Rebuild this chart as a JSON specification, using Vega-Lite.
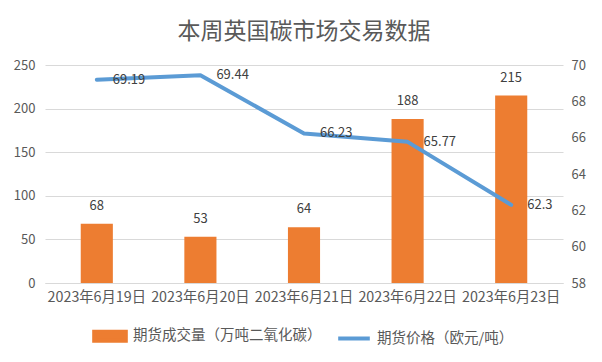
{
  "$schema": "https://vega.github.io/schema/vega-lite/v6.json",
  "autosize": "none",
  "width": 518,
  "height": 218,
  "padding": {"left": 45, "top": 65, "right": 39, "bottom": 79},
  "background": "white",
  "title": {
    "text": "本周英国碳市场交易数据",
    "font": "Noto Sans CJK SC",
    "fontSize": 23,
    "fontWeight": "normal",
    "color": "#595959",
    "anchor": "middle",
    "offset": 15
  },
  "config": {
    "view": {"stroke": null},
    "font": "Noto Sans CJK SC",
    "axis": {
      "labelFont": "Noto Sans CJK SC",
      "labelFontSize": 13,
      "labelColor": "#595959",
      "ticks": false,
      "domain": false,
      "gridColor": "#D9D9D9",
      "gridWidth": 1,
      "title": null,
      "labelOverlap": false
    }
  },
  "data": {
    "values": [
      {"date": "2023年6月19日", "volume": 68, "price": 69.19},
      {"date": "2023年6月20日", "volume": 53, "price": 69.44},
      {"date": "2023年6月21日", "volume": 64, "price": 66.23},
      {"date": "2023年6月22日", "volume": 188, "price": 65.77},
      {"date": "2023年6月23日", "volume": 215, "price": 62.3}
    ]
  },
  "encoding": {
    "x": {
      "field": "date",
      "type": "nominal",
      "sort": null,
      "scale": {"paddingInner": 0.69, "paddingOuter": 0.345},
      "axis": {"labelAngle": 0, "labelPadding": 7, "domain": true, "domainColor": "#D9D9D9", "labelFontSize": 14.3, "labelOverlap": false, "labelLimit": 0}
    }
  },
  "layer": [
    {
      "layer": [
        {
          "mark": {"type": "bar"},
          "encoding": {
            "y": {
              "field": "volume",
              "type": "quantitative",
              "scale": {"domain": [0, 250]},
              "axis": {"values": [0, 50, 100, 150, 200, 250], "labelPadding": 10, "grid": true, "labelOverlap": false}
            },
            "color": {
              "datum": "期货成交量（万吨二氧化碳）",
              "type": "nominal",
              "scale": {
                "domain": ["期货成交量（万吨二氧化碳）", "期货价格（欧元/吨）"],
                "range": ["#ED7D31", "#5B9BD5"]
              },
              "legend": {
                "orient": "none",
                "legendX": 47,
                "legendY": 253,
                "direction": "horizontal",
                "title": null,
                "labelFont": "Noto Sans CJK SC",
                "labelFontSize": 14.5,
                "labelColor": "#595959",
                "labelLimit": 0,
                "symbolType": "M-1,-0.28H1V0.28H-1Z",
                "symbolSize": 1000,
                "columnPadding": 8,
                "labelOffset": 5,
                "encode": {
                  "symbols": {
                    "update": {
                      "shape": {"signal": "datum.value === '期货价格（欧元/吨）' ? 'stroke' : 'M-1,-0.28H1V0.28H-1Z'"},
                      "fill": {"signal": "datum.value === '期货价格（欧元/吨）' ? 'transparent' : '#ED7D31'"},
                      "stroke": {"signal": "datum.value === '期货价格（欧元/吨）' ? '#5B9BD5' : 'transparent'"},
                      "strokeWidth": {"value": 4},
                      "opacity": {"value": 1}
                    }
                  }
                }
              }
            }
          }
        },
        {
          "mark": {"type": "text", "baseline": "middle", "dy": -18, "fontSize": 13, "color": "#404040", "font": "Noto Sans CJK SC"},
          "encoding": {
            "y": {
              "field": "volume",
              "type": "quantitative",
              "scale": {"domain": [0, 250]},
              "axis": {"values": [0, 50, 100, 150, 200, 250], "labelPadding": 10, "grid": true, "labelOverlap": false}
            },
            "text": {"field": "volume", "type": "quantitative"}
          }
        }
      ]
    },
    {
      "layer": [
        {
          "mark": {"type": "line", "strokeWidth": 4, "strokeCap": "round", "strokeJoin": "round"},
          "encoding": {
            "y": {
              "field": "price",
              "type": "quantitative",
              "scale": {"domain": [58, 70], "zero": false},
              "axis": {"orient": "right", "values": [58, 60, 62, 64, 66, 68, 70], "grid": false, "labelPadding": 8, "labelOverlap": false}
            },
            "color": {"datum": "期货价格（欧元/吨）", "type": "nominal"}
          }
        },
        {
          "mark": {"type": "text", "align": "left", "baseline": "middle", "dx": 16, "fontSize": 13, "color": "#404040", "font": "Noto Sans CJK SC"},
          "encoding": {
            "y": {
              "field": "price",
              "type": "quantitative",
              "scale": {"domain": [58, 70], "zero": false},
              "axis": {"orient": "right", "values": [58, 60, 62, 64, 66, 68, 70], "grid": false, "labelPadding": 8, "labelOverlap": false}
            },
            "text": {"field": "price", "type": "quantitative"}
          }
        }
      ]
    }
  ],
  "resolve": {"scale": {"y": "independent"}}
}
